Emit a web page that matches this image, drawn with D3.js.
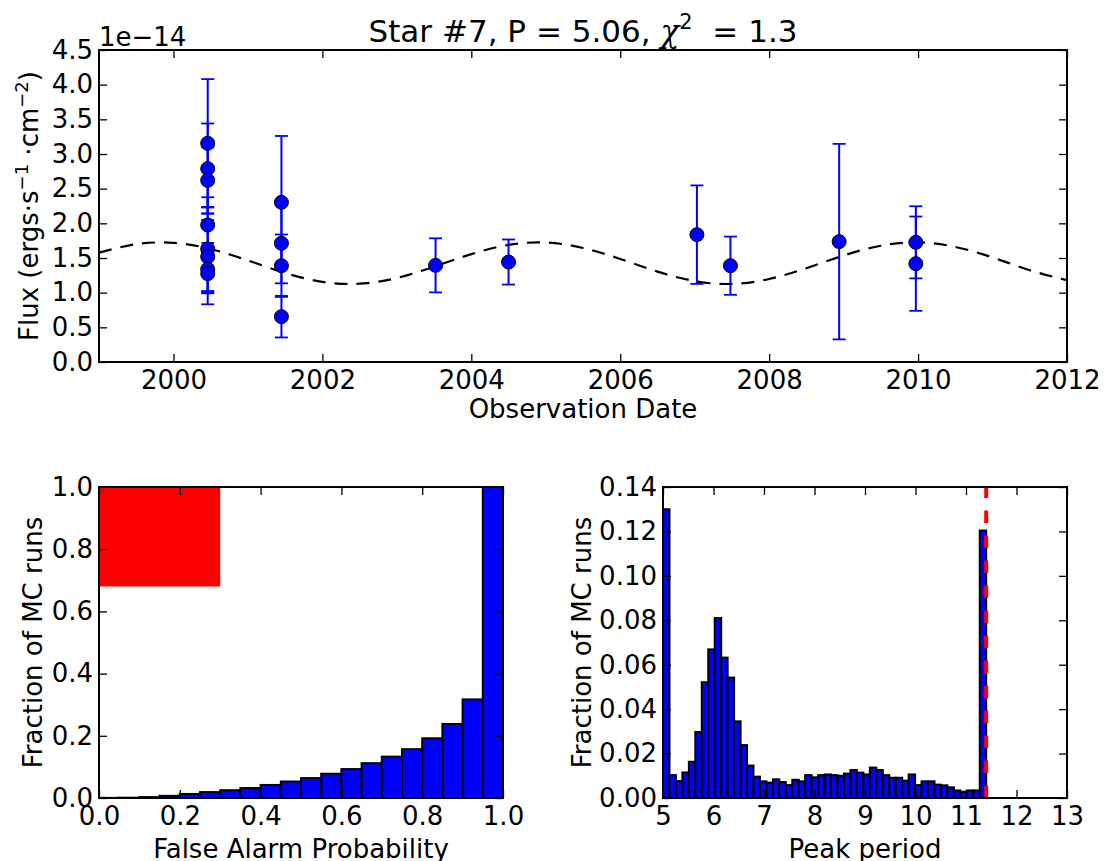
<!DOCTYPE html>
<html><head><meta charset="utf-8">
<script src="https://cdn.jsdelivr.net/npm/d3@7"></script>
<style>
body{margin:0;background:#fff;}
svg{display:block;font-family:"DejaVu Sans",sans-serif;}
text{white-space:pre;}
</style></head><body>
<svg id="c" width="1105" height="861"></svg>
<script>
// ---------------- DATA ----------------
// Top panel: observations (flux in units of 1e-14)
const obsYear = [2000.46,2000.46,2000.46,2000.46,2000.46,2000.46,2000.46,2000.46,
                 2001.45,2001.45,2001.45,2001.45,
                 2003.52,2004.50,2007.03,2007.48,2008.94,2009.97,2009.97];
const obsFlux = [3.154,2.789,2.62,1.976,1.63,1.519,1.337,1.274,
                 2.303,1.712,1.389,0.654,
                 1.394,1.442,1.837,1.389,1.736,1.726,1.418];
const obsErr  = [0.926,0.651,0.476,0.40,0.606,0.529,0.33,0.442,
                 0.957,0.577,0.45,0.30,
                 0.39,0.325,0.71,0.42,1.41,0.52,0.68];
// model curve (dashed), every half year
const modelYear = [1999,1999.5,2000,2000.5,2001,2001.5,2002,2002.5,2003,2003.5,2004,2004.5,2005,2005.5,
                   2006,2006.5,2007,2007.5,2008,2008.5,2009,2009.5,2010,2010.5,2011,2011.5,2012];
const modelFlux = [1.576,1.699,1.719,1.630,1.464,1.284,1.156,1.129,1.212,1.375,1.556,1.689,1.723,1.645,
                   1.486,1.304,1.167,1.126,1.197,1.353,1.536,1.677,1.725,1.660,1.508,1.324,1.179];
const topXTicks = [2000,2002,2004,2006,2008,2010,2012];
const topYTicks = [0,0.5,1,1.5,2,2.5,3,3.5,4,4.5];

// Bottom-left: False alarm probability histogram
const fapBinLo = [0,0.05,0.1,0.15,0.2,0.25,0.3,0.35,0.4,0.45,0.5,0.55,0.6,0.65,0.7,0.75,0.8,0.85,0.9,0.95];
const fapBinW = 0.05;
const fapFrac = [0.0005,0.001,0.003,0.007,0.013,0.019,0.025,0.032,0.042,0.053,
                 0.064,0.078,0.093,0.112,0.133,0.157,0.192,0.238,0.317,1.0];
const fapBox = {x0:0, x1:0.3, y0:0.68, y1:1.0};
const blXTicks = [0,0.2,0.4,0.6,0.8,1.0];
const blYTicks = [0,0.2,0.4,0.6,0.8,1.0];

// Bottom-right: peak period histogram
const perStart = 5.0, perBinW = 0.128;
const perFrac = [0.130,0.0103,0.0076,0.0115,0.0163,0.0297,0.0521,0.0669,0.081,0.0632,
                 0.0542,0.0345,0.0238,0.0146,0.0096,0.0075,0.0069,0.0084,0.0072,0.0058,
                 0.0082,0.0075,0.0103,0.0093,0.0103,0.0106,0.0103,0.0100,0.0110,0.0126,
                 0.0114,0.0106,0.0137,0.0126,0.0103,0.0091,0.0091,0.0078,0.0106,0.0058,
                 0.0075,0.0075,0.0060,0.0057,0.0048,0.0034,0.0028,0.0034,0.0034,0.1204];
const perLine = 11.40;
const brXTicks = [5,6,7,8,9,10,11,12,13];
const brYTicks = [0,0.02,0.04,0.06,0.08,0.10,0.12,0.14];

// ---------------- DRAW ----------------
const svg = d3.select("#c");
const FS = 26, TICK = 8;

function frameAxes(g, x, y, xt, yt, xfmt, yfmt, box){
  const ax = g.append("g");
  ax.append("g").attr("transform",`translate(0,${box.b})`)
    .call(d3.axisBottom(x).tickValues(xt).tickFormat(xfmt).tickSizeInner(-TICK).tickSizeOuter(0).tickPadding(9));
  ax.append("g").attr("transform",`translate(0,${box.t})`)
    .call(d3.axisTop(x).tickValues(xt).tickFormat("").tickSizeInner(-TICK).tickSizeOuter(0));
  ax.append("g").attr("transform",`translate(${box.l},0)`)
    .call(d3.axisLeft(y).tickValues(yt).tickFormat(yfmt).tickSizeInner(-TICK).tickSizeOuter(0).tickPadding(6));
  ax.append("g").attr("transform",`translate(${box.r},0)`)
    .call(d3.axisRight(y).tickValues(yt).tickFormat("").tickSizeInner(-TICK).tickSizeOuter(0));
  ax.selectAll(".domain").remove();
  ax.selectAll(".tick line").attr("stroke","#000").attr("stroke-width",1.3);
  ax.selectAll(".tick text").attr("font-size",FS).attr("font-family","DejaVu Sans").attr("fill","#000");
  ax.append("rect").attr("x",box.l).attr("y",box.t).attr("width",box.r-box.l).attr("height",box.b-box.t)
    .attr("fill","none").attr("stroke","#000").attr("stroke-width",2);
}

// ---- Top panel ----
const T = {l:99, r:1067, t:50, b:362};
const xT = d3.scaleLinear().domain([1999,2012]).range([T.l,T.r]);
const yT = d3.scaleLinear().domain([0,4.5]).range([T.b,T.t]);
const gT = svg.append("g");
gT.append("clipPath").attr("id","clipT").append("rect").attr("x",T.l).attr("y",T.t).attr("width",T.r-T.l).attr("height",T.b-T.t);
const pT = gT.append("g").attr("clip-path","url(#clipT)");

pT.append("path").datum(modelYear.map((d,i)=>[d,modelFlux[i]]))
  .attr("d", d3.line().x(d=>xT(d[0])).y(d=>yT(d[1])).curve(d3.curveNatural))
  .attr("fill","none").attr("stroke","#000").attr("stroke-width",2.2).attr("stroke-dasharray","13,9");

const obs = obsYear.map((d,i)=>({t:d,f:obsFlux[i],e:obsErr[i]}));
const CAP = 6.5;
pT.selectAll("line.eb").data(obs).join("line").attr("class","eb")
  .attr("x1",d=>xT(d.t)).attr("x2",d=>xT(d.t)).attr("y1",d=>yT(d.f-d.e)).attr("y2",d=>yT(d.f+d.e))
  .attr("stroke","#0000ff").attr("stroke-width",2);
obs.forEach(d=>{
  [d.f-d.e,d.f+d.e].forEach(v=>{
    pT.append("line").attr("x1",xT(d.t)-CAP).attr("x2",xT(d.t)+CAP).attr("y1",yT(v)).attr("y2",yT(v))
      .attr("stroke","#0000ff").attr("stroke-width",1.8);
  });
});
pT.selectAll("circle.pt").data(obs).join("circle").attr("class","pt")
  .attr("cx",d=>xT(d.t)).attr("cy",d=>yT(d.f)).attr("r",7)
  .attr("fill","#0000ff").attr("stroke","#000").attr("stroke-width",1);

frameAxes(gT, xT, yT, topXTicks, topYTicks, d3.format("d"), d3.format(".1f"), T);

svg.append("text").attr("x",99).attr("y",45.5).attr("font-size",FS).text("1e\u221214");
svg.append("text").attr("x",(T.l+T.r)/2).attr("y",418).attr("text-anchor","middle").attr("font-size",FS).text("Observation Date");

// title
const title = svg.append("text").attr("x",(T.l+T.r)/2).attr("y",42).attr("text-anchor","middle").attr("font-size",31);
title.append("tspan").text("Star #7, P = 5.06, ");
title.append("tspan").attr("font-family","DejaVu Serif").attr("font-style","italic").text("\u03c7");
title.append("tspan").attr("font-size",21).attr("dy",-13).text("2");
title.append("tspan").attr("dy",13).text("  = 1.3");

// y label
const yl = svg.append("text").attr("transform",`translate(38,${(T.t+T.b)/2}) rotate(-90)`)
  .attr("text-anchor","middle").attr("font-size",FS);
yl.append("tspan").text("Flux (ergs\u00b7s");
yl.append("tspan").attr("font-size",18).attr("dy",-10).text("\u22121");
yl.append("tspan").attr("dy",10).text(" \u00b7cm");
yl.append("tspan").attr("font-size",18).attr("dy",-10).text("\u22122");
yl.append("tspan").attr("dy",10).text(")");

// ---- Bottom-left ----
const L = {l:99, r:503, t:487, b:798};
const xL = d3.scaleLinear().domain([0,1]).range([L.l,L.r]);
const yL = d3.scaleLinear().domain([0,1]).range([L.b,L.t]);
const gL = svg.append("g");
gL.append("rect").attr("x",xL(fapBox.x0)).attr("y",yL(fapBox.y1))
  .attr("width",xL(fapBox.x1)-xL(fapBox.x0)).attr("height",yL(fapBox.y0)-yL(fapBox.y1)).attr("fill","#ff0000");
gL.selectAll("rect.bar").data(fapFrac).join("rect").attr("class","bar")
  .attr("x",(d,i)=>xL(fapBinLo[i])).attr("width",(d,i)=>xL(fapBinLo[i]+fapBinW)-xL(fapBinLo[i]))
  .attr("y",d=>yL(d)).attr("height",d=>yL(0)-yL(d))
  .attr("fill","#0000ff").attr("stroke","#000").attr("stroke-width",2);
frameAxes(gL, xL, yL, blXTicks, blYTicks, d3.format(".1f"), d3.format(".1f"), L);
svg.append("text").attr("transform",`translate(42,${(L.t+L.b)/2}) rotate(-90)`).attr("text-anchor","middle")
  .attr("font-size",FS).text("Fraction of MC runs");
svg.append("text").attr("x",(L.l+L.r)/2).attr("y",858).attr("text-anchor","middle").attr("font-size",FS).text("False Alarm Probability");

// ---- Bottom-right ----
const R = {l:663, r:1067, t:487, b:798};
const xR = d3.scaleLinear().domain([5,13]).range([R.l,R.r]);
const yR = d3.scaleLinear().domain([0,0.14]).range([R.b,R.t]);
const gR = svg.append("g");
gR.selectAll("rect.bar").data(perFrac).join("rect").attr("class","bar")
  .attr("x",(d,i)=>xR(perStart+i*perBinW)).attr("width",xR(perStart+perBinW)-xR(perStart))
  .attr("y",d=>yR(d)).attr("height",d=>yR(0)-yR(d))
  .attr("fill","#0000ff").attr("stroke","#000").attr("stroke-width",2);
gR.append("line").attr("x1",xR(perLine)).attr("x2",xR(perLine)).attr("y1",yR(0)).attr("y2",yR(0.14))
  .attr("stroke","#ff0000").attr("stroke-width",4).attr("stroke-dasharray","12.5,12.5");
frameAxes(gR, xR, yR, brXTicks, brYTicks, d3.format("d"), d3.format(".2f"), R);
svg.append("text").attr("transform",`translate(591,${(R.t+R.b)/2}) rotate(-90)`).attr("text-anchor","middle")
  .attr("font-size",FS).text("Fraction of MC runs");
svg.append("text").attr("x",(R.l+R.r)/2).attr("y",858).attr("text-anchor","middle").attr("font-size",FS).text("Peak period");
</script>
</body></html>
